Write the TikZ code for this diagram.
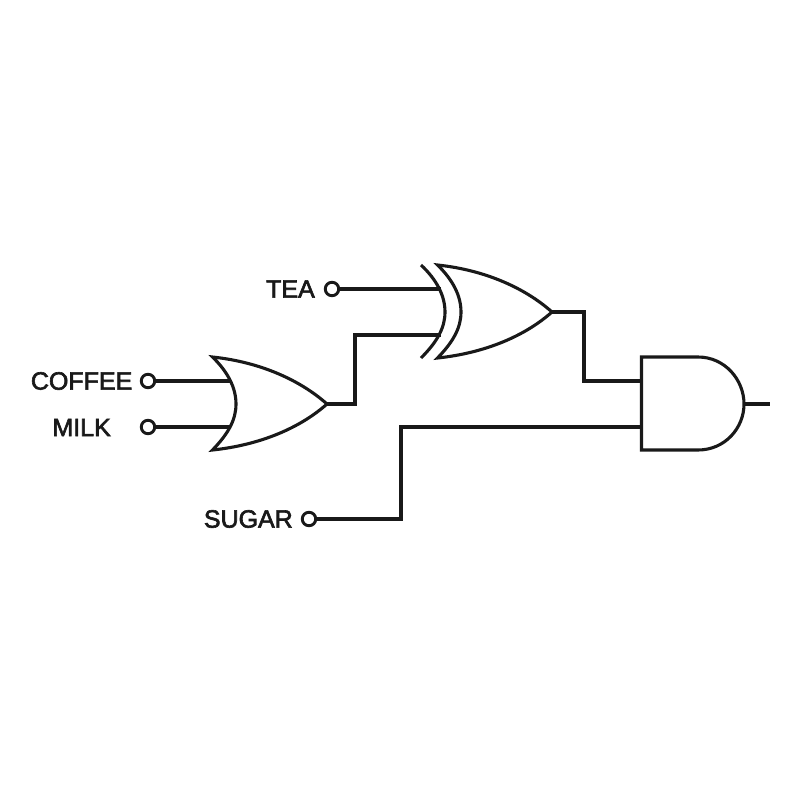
\documentclass[tikz,border=0pt]{standalone}
\usepackage{fontspec}
\setmainfont{Liberation Sans}[FakeBold=2.5]
\tikzset{
  wire/.style={line width=3.1pt,draw=black!90,line join=miter},
  gateline/.style={line width=3.1pt,draw=black!90,line join=miter},
  terminal/.style={circle,draw=black!90,line width=2.9pt,fill=white,minimum size=13.5pt,inner sep=0pt},
  lab/.style={font=\fontsize{25}{27}\selectfont,text=black!90,anchor=east,inner sep=0pt}
}
\begin{document}
\begin{tikzpicture}[x=1pt,y=-1pt]
\useasboundingbox (0,0) rectangle (800,800);
% terminals' anchor points on gates
\coordinate (orA) at (230,381);
\coordinate (orB) at (230,427);
\coordinate (orOut) at (327,404);
\coordinate (xorA) at (441,289);
\coordinate (xorB) at (441,335);
\coordinate (xorOut) at (552,312);
\coordinate (andA) at (641.5,381);
\coordinate (andB) at (641.5,427);
\coordinate (andOut) at (744,404);
\coordinate (end) at (770,404);
\coordinate (j1) at (355,404);
\coordinate (j2) at (584,312);
\coordinate (j3) at (401,519);
% input terminals and labels
\node[terminal] (coffee) at (148,381) {};
\node[terminal] (milk) at (148,427) {};
\node[terminal] (tea) at (332,289) {};
\node[terminal] (sugar) at (309,519) {};
\node[lab] (lcoffee) at (132.5,381) {COFFEE};
\node[lab] (lmilk) at (111,427.5) {MILK};
\node[lab] (ltea) at (315,289) {TEA};
\node[lab] (lsugar) at (293,519) {SUGAR};
% wires
\draw[wire] (coffee) -- (orA);
\draw[wire] (milk) -- (orB);
\draw[wire] (tea) -- (xorA);
\draw[wire] (orOut) -- (j1) |- (xorB);
\draw[wire] (xorOut) -- (j2) |- (andA);
\draw[wire] (sugar) -- (j3) |- (andB);
\draw[wire] (andOut) -- (end);
% OR gate
\draw[gateline] (212.5,357) .. controls (260,362) and (300,380) .. (327,404)
  .. controls (300,428) and (260,445) .. (212.5,450)
  .. controls (228,434) and (236,420) .. (236,404)
  .. controls (236,388) and (228,372) .. (212.5,357) -- cycle;
% XOR gate
\draw[gateline] (437.5,265) .. controls (485,270) and (525,288) .. (552,312)
  .. controls (525,336) and (485,353) .. (437.5,358)
  .. controls (453,342) and (461,328) .. (461,312)
  .. controls (461,296) and (453,280) .. (437.5,265) -- cycle;
\draw[gateline] (421,265) .. controls (437,280) and (445,296) .. (445,312)
  .. controls (445,328) and (437,342) .. (421,358);
% AND gate
\draw[gateline] (641.5,357) -- (698,357)
  .. controls (725,357) and (744,380) .. (744,404)
  .. controls (744,428) and (725,450) .. (698,450)
  -- (641.5,450) -- cycle;
\end{tikzpicture}
\end{document}
